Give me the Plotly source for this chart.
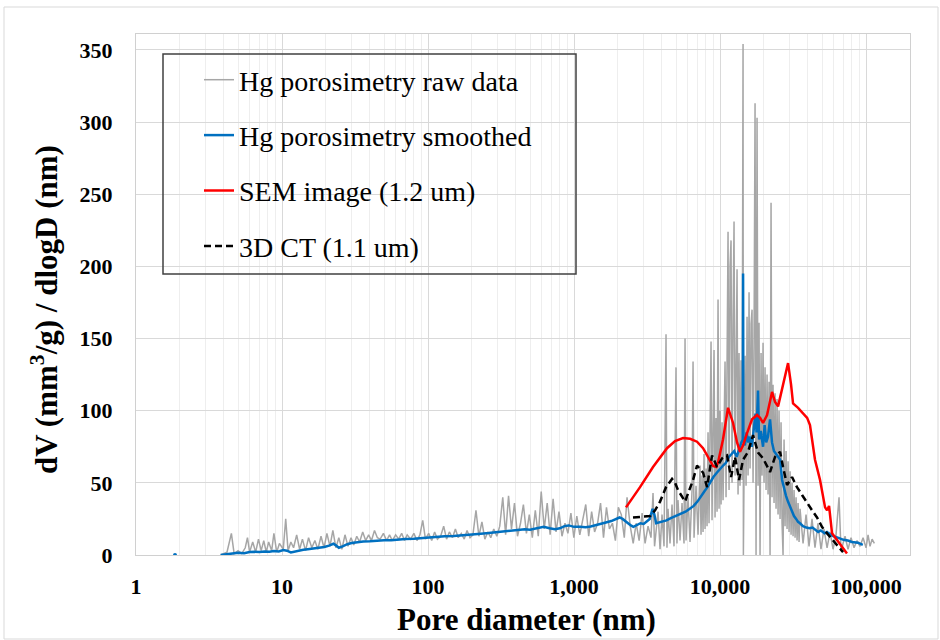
import plotly.graph_objects as go

# ---------------- data ----------------
# Hg porosimetry raw data (pore diameter nm, dV/dlogD)
raw_x = [3.8, 4.2, 4.5, 4.7, 5.0, 5.3, 5.6, 5.8, 6.0, 6.3, 6.6, 6.9, 7.2, 7.5, 7.8, 8.1, 8.5, 8.8, 9.2, 9.6,
         10.2, 10.6, 11.0, 11.5, 12, 12.6, 13.2, 13.8, 14.5, 15.2, 16, 16.8, 17.6, 18.5, 19.4, 20.3, 21.3, 22.3,
         23.4, 24.5, 25.7, 27, 28.3, 29.7, 31, 32.5, 34, 35.7, 37.4, 39.2, 41, 43, 45, 47, 49.5, 52, 54.5, 57,
         60, 63, 66, 69, 72, 76, 80, 84, 88, 92, 96, 101, 106, 111, 116, 122, 128, 134, 140, 147, 154, 161,
         169, 177, 185, 194, 203, 213, 223, 234, 245, 257, 269, 282, 296, 310, 325, 340, 356, 373, 391, 410,
         430, 450, 472, 494, 518, 543, 569, 596, 625, 655, 686, 719, 753, 789, 827, 867, 908, 952, 997, 1045,
         1095, 1148, 1203, 1260, 1320, 1383, 1450, 1519, 1592, 1668, 1748, 1832, 1920, 2012, 2108, 2209, 2307,
         2426, 2542, 2664, 2792, 2926, 3066, 3213, 3367, 3475, 3560,
         3762, 3882, 4006, 4134, 4267, 4330, 4403, 4544, 4690, 4840, 4994, 5070, 5154, 5321, 5491, 5666, 5758,
         5849, 6037, 6229, 6430, 6533, 6636, 6848, 7068,
         7295, 7411, 7528, 7648, 7769, 7893, 8019, 8146, 8276, 8407, 8541, 8677, 8815, 8955, 9097, 9242,
         9389, 9538, 9690, 9844, 10000, 10159, 10321, 10485, 10651, 10821, 10993, 11168, 11345, 11526,
         11709, 11895, 12084, 12276, 12471, 12670, 12871, 13076, 13284, 13495, 13709, 13927, 14149, 14374,
         14450, 14602, 14834, 15070, 15310, 15553, 15801, 16052, 16307, 16566, 16830, 17097, 17369, 17645,
         17926, 18211, 18500, 18794, 19093, 19397, 19705, 20018, 20337, 20660, 20988, 21322, 21661, 22006,
         22355, 22711, 23072, 23438, 23811, 24189, 24574, 24965, 25361, 25765, 26174, 26590, 27013, 27443,
         27879, 28322, 28772, 29230, 29694, 30166, 30647, 31133, 31629, 32131, 32643, 33160, 33689, 34222,
         34767, 35318, 37030, 38815, 40687, 42650, 44707, 46863, 49124, 51492, 54077,
         56667, 59414, 62287, 65312, 67400, 71791, 75262, 78927, 82765, 86773, 90981, 95390, 100000, 103200,
         106500, 110000, 114000]
raw_y = [0, 2, 15, 1, 3, 1, 5, 12, 2, 9, 2, 11, 3, 10, 2, 9, 3, 15, 2, 8,
         4, 25, 3, 9, 5, 14, 4, 11, 3, 12, 5, 10, 4, 13, 5, 15, 6, 17,
         5, 12, 4, 14, 6, 12, 7, 13, 9, 16, 10, 14, 10, 17, 12, 11, 15, 10, 14, 10,
         14, 11, 15, 10, 14, 11, 15, 10, 14, 24, 11, 15, 10, 16, 11, 13, 20, 11, 16, 12, 18, 12,
         15, 11, 17, 12, 14, 31, 13, 23, 11, 16, 12, 18, 13, 20, 40, 14, 41, 18, 36, 13,
         22, 35, 15, 28, 12, 31, 13, 44, 18, 36, 14, 39, 16, 30, 13, 22, 15, 29, 12, 27,
         14, 24, 35, 13, 30, 16, 22, 36, 12, 33, 18, 22, 10, 33, 28, 12, 40,
         20, 8, 22, 10, 29, 8, 20, 12, 43, 6,
         30, 4, 28, 6, 153, 5, 32, 8, 35, 6, 130, 8, 38, 10, 36, 8, 150,
         10, 40, 9, 45, 134, 12, 48, 14,
         62, 14, 55, 16, 70, 18, 60, 20, 85, 22, 75, 148, 24, 90, 142, 26,
         95, 30, 177, 32, 100, 35, 92, 38, 110, 134, 40, 120, 224, 45,
         200, 218, 50, 160, 231, 55, 150, 198, 42, 140, 48, 135, 52, 354,
         0, 62, 138, 48, 165, 55, 182, 60, 160, 170, 50, 150, 313, 0,
         303, 48, 161, 0, 140, 55, 147, 50, 130, 45, 125, 42, 120, 0,
         244, 40, 118, 36, 112, 32, 108, 28, 100, 25, 92, 22, 0, 80,
         20, 72, 18, 65, 16, 58, 14, 50, 13, 45, 12, 40, 10, 36,
         9, 32, 8, 28, 6, 25, 5, 22, 4, 18, 5,
         16, 4, 14, 40, 3, 13, 4, 12, 5, 10, 6, 12, 5, 14,
         6, 11, 8]

# Hg porosimetry smoothed
smooth_x = [3.8, 4.2, 4.6, 5.0, 5.5, 6.0, 6.5, 7.0, 7.6, 8.2, 8.8, 9.5, 10.2, 10.8, 11.5, 12.3, 13, 14, 15, 16,
            17, 18, 19.5, 21, 22.5, 23.5, 24.5, 26, 28, 30, 33, 36, 40, 45, 50, 56, 62, 70, 80, 90, 100, 115,
            130, 150, 170, 200, 230, 260, 300, 340, 380, 420, 460, 500, 560, 620, 680, 740, 800, 860, 920,
            1000, 1100, 1200, 1300, 1400, 1500, 1650, 1800, 1950, 2050, 2150, 2300, 2450, 2550, 2700, 2850,
            3000, 3150, 3300, 3450, 3550, 3650, 3800, 4000, 4300, 4600, 5000, 5400, 5800, 6200, 6600, 7000,
            7400, 7800, 8200, 8600, 9000, 9500, 10000, 10500, 11000, 11500, 12000, 12500, 13000, 13500,
            14000, 14300, 14380, 14450, 14800, 15200, 15600, 16000, 16500, 17000, 17500, 17800, 18200,
            18500, 19000, 19700, 20200, 20700, 21300, 22000, 22700, 23400, 24200, 25000, 25800, 26600,
            27400, 28300, 29200, 30200, 31100, 32100, 33200, 34200, 35300, 37000, 39000, 41000, 43000,
            45000, 47000, 49000, 52000, 54000, 57000, 60000, 63000, 66000, 70000, 75000, 80000, 88000, 95000]
smooth_y = [0, 0.5, 1, 1.5, 1.2, 2, 2.2, 2, 2.5, 2.3, 2.8, 2.5, 3.5, 3, 1.8, 2.5, 3.2, 3.6, 4, 4.3,
            4.8, 5.2, 5.5, 6.5, 7.8, 6.5, 5, 6, 7.5, 8.3, 9, 9.3, 9.5, 10, 10.3, 10.2, 10.8, 11, 11.3, 11.8, 12, 12.4,
            13, 13.2, 13.8, 14.5, 14.8, 15.2, 15.8, 16.5, 16.8, 17.5, 17.8, 17.5, 18.5, 19.5, 18.5, 17.8, 18.5, 20, 20.5,
            19.5, 19.5, 19.3, 19.8, 20.5, 21.5, 22.5, 23.5, 25, 26, 25, 22.5, 20.5, 19.5, 20.5, 22,
            21.5, 23, 25, 32, 28, 22, 22.5, 23, 24, 25.5, 27, 28.5, 30, 32, 34, 37,
            41, 44, 47, 51, 54, 57, 60, 62, 64, 68, 70, 72, 68, 74,
            78, 80, 195, 80, 76, 85, 78, 82, 75, 85, 98, 85, 114,
            80, 86, 75, 90, 78, 82, 94, 78, 72, 70, 68, 66, 52,
            46, 41, 37, 33, 30, 27, 25, 23, 22, 20, 19, 18.5, 19,
            17.5, 16, 17, 15, 16, 14, 13, 12, 11.5, 10.5, 10, 9, 8.5, 7]

# isolated smoothed point at ~1.9 nm
smooth_dot_x = [1.85]
smooth_dot_y = [0]

# SEM image (1.2 um)
sem_x = [2270, 2831, 3475, 4333, 4917, 5580, 6235, 6956, 7653, 8276, 8955, 9389, 9690, 10480, 11345, 12280,
         13075, 13709, 14376, 15310, 16565, 17924, 18793, 19705, 20990, 22710, 23810, 24965, 27010, 29231,
         30650, 31620, 34227, 37030, 39500, 41300, 44707, 48400, 52400, 54077, 55800, 58500, 61400, 66400,
         71000, 74000]
sem_y = [33, 47, 61, 74, 79, 81, 80.5, 78.5, 74, 68, 61.7, 61, 64, 80, 102, 91.5,
         78, 71.5, 76, 84.5, 94, 97, 95, 91.5, 97, 113, 106, 103, 118, 133,
         118, 105, 102, 98.5, 95, 90, 66, 52, 33, 31, 34, 15, 12, 8,
         3, 1]

# 3D CT (1.1 um)
ct_x = [2535, 2876, 3318, 3589, 3882, 4267, 4690, 4917, 5154, 5758, 6137, 6533, 6956, 7653, 8147, 8815,
        9540, 10321, 11170, 11894, 12670, 13490, 14376, 15552, 16830, 18209, 19705, 22004, 23810, 25765,
        27010, 28770, 31135, 33660, 36450, 39470, 42650, 46150, 50000, 54077, 59414, 66400, 69560]
ct_y = [26, 26.5, 27, 31, 37, 47, 52.7, 50, 45, 37, 44, 52, 62, 57, 47, 69,
        61, 67, 69, 54, 68, 52, 66, 71.5, 83, 71, 67, 57.5, 68, 71.5,
        61, 48.5, 54, 47, 41.6, 36, 31, 26, 19.4, 15, 10.4, 5, 2]

x_tickvals = [1, 10, 100, 1000, 10000, 100000]
x_ticktext = ["1", "10", "100", "1,000", "10,000", "100,000"]
y_tickvals = [0, 50, 100, 150, 200, 250, 300, 350]

# ---------------- figure ----------------
SERIF = "Liberation Serif"

fig = go.Figure()
fig.add_trace(go.Scatter(x=raw_x, y=raw_y, mode="lines", name="Hg porosimetry raw data",
                         legendgroup="a", line=dict(color="#a6a6a6", width=1.5)))
fig.add_trace(go.Scatter(x=smooth_x, y=smooth_y, mode="lines", name="Hg porosimetry smoothed",
                         legendgroup="b", line=dict(color="#0070c0", width=2.5)))
fig.add_trace(go.Scatter(x=smooth_dot_x, y=smooth_dot_y, mode="markers", showlegend=False,
                         legendgroup="b", marker=dict(color="#0070c0", size=4)))
fig.add_trace(go.Scatter(x=sem_x, y=sem_y, mode="lines", name="SEM image (1.2 um)",
                         legendgroup="c", line=dict(color="#ff0000", width=2.5)))
fig.add_trace(go.Scatter(x=ct_x, y=ct_y, mode="lines", name="3D CT (1.1 um)",
                         legendgroup="d", line=dict(color="#000000", width=2.5, dash="7px,4px")))

L, R, T, B = 136, 30, 34, 85
W, H = 940, 640
pw, ph = W - L - R, H - T - B


def px(xp):
    return (xp - L) / pw


def py(yp):
    return (H - B - yp) / ph


fig.update_layout(
    width=W, height=H,
    margin=dict(l=L, r=R, t=T, b=B),
    paper_bgcolor="white", plot_bgcolor="white",
    font=dict(family=SERIF, color="black"),
    showlegend=True,
    legend=dict(x=px(199), y=py(55), xanchor="left", yanchor="top",
                font=dict(family=SERIF, size=28, color="black"),
                bgcolor="rgba(0,0,0,0)", borderwidth=0,
                traceorder="grouped", tracegroupgap=16, itemwidth=30),
    xaxis=dict(type="log", range=[0, 5.301],
               tickvals=x_tickvals, ticktext=x_ticktext,
               tickfont=dict(family=SERIF, size=22, color="black", weight="bold"),
               showgrid=True, gridcolor="#d9d9d9", gridwidth=1,
               minor=dict(dtick="D1", showgrid=True, gridcolor="#eeeeee", gridwidth=1, ticks=""),
               showline=True, linecolor="#d0d0d0", linewidth=1, mirror=True,
               ticks="", ticklabelstandoff=12, zeroline=False),
    yaxis=dict(range=[0, 361], tickvals=y_tickvals,
               tickfont=dict(family=SERIF, size=22, color="black", weight="bold"),
               showgrid=True, gridcolor="#d9d9d9", gridwidth=1,
               showline=True, linecolor="#d0d0d0", linewidth=1, mirror=True,
               ticks="", ticklabelstandoff=18, zeroline=False),
    annotations=[
        dict(text="Pore diameter (nm)", xref="paper", yref="paper",
             x=px(526), y=py(619), xanchor="center", yanchor="middle", showarrow=False,
             font=dict(family=SERIF, size=31, color="black", weight="bold")),
        dict(text="dV (mm<sup>3</sup>/g) / dlogD (nm)", xref="paper", yref="paper",
             x=px(44), y=py(310), xanchor="center", yanchor="middle", showarrow=False, textangle=-90,
             font=dict(family=SERIF, size=31, color="black", weight="bold")),
    ],
    shapes=[
        dict(type="rect", xref="paper", yref="paper", x0=px(163), x1=px(576), y0=py(274), y1=py(54),
             line=dict(color="#404040", width=1.5), fillcolor="rgba(0,0,0,0)", layer="above"),
        dict(type="rect", xref="paper", yref="paper", x0=px(4), x1=px(938), y0=py(639), y1=py(7),
             line=dict(color="#d9d9d9", width=1), fillcolor="rgba(0,0,0,0)", layer="below"),
    ],
)

fig.write_html("out.html")
